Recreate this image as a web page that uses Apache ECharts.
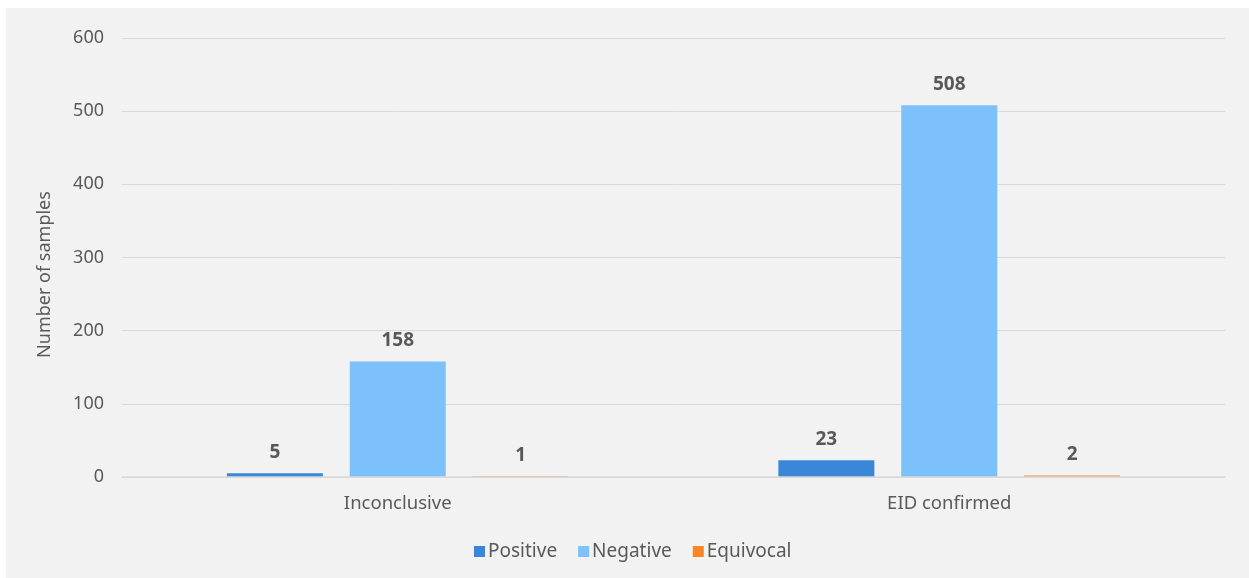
<!DOCTYPE html>
<html>
<head>
<meta charset="utf-8">
<script src="https://cdn.jsdelivr.net/npm/echarts@6/dist/echarts.min.js"></script>
<style>
html,body{margin:0;padding:0;background:#ffffff;width:1249px;height:578px;overflow:hidden;}
#panel{position:absolute;left:6px;top:8px;width:1243px;height:570px;background:#f2f2f2;}
#chart{position:absolute;left:0;top:0;width:1249px;height:578px;}
</style>
</head>
<body>
<div id="panel"></div>
<div id="chart"></div>
<script>
var categories = ['Inconclusive', 'EID confirmed'];
var positive = [5, 23];
var negative = [158, 508];
var equivocal = [1, 2];
var yTicks = [0, 100, 200, 300, 400, 500, 600];

var font = '"Noto Sans", "Open Sans", sans-serif';
var textColor = '#595959';
var chart = echarts.init(document.getElementById('chart'), null, {renderer: 'canvas'});
var labelCfg = {show: true, position: 'top', distance: 11, color: textColor, fontSize: 19, fontWeight: 'bold', fontFamily: font};
chart.setOption({
  backgroundColor: 'transparent',
  animation: false,
  grid: {left: 122, right: 24, top: 38, bottom: 101, containLabel: false},
  legend: {
    top: 537, left: 469, itemWidth: 11, itemHeight: 11, itemGap: 21,
    icon: 'rect',
    textStyle: {color: textColor, fontSize: 19, fontFamily: font, padding: [0,0,0,-2]},
    data: ['Positive', 'Negative', 'Equivocal']
  },
  xAxis: {
    type: 'category', data: categories, z: 5,
    axisLine: {lineStyle: {color: '#d9d9d9', width: 1.5}},
    axisTick: {show: false},
    axisLabel: {color: textColor, fontSize: 18.5, fontFamily: font, margin: 17}
  },
  yAxis: {
    type: 'value', min: yTicks[0], max: yTicks[yTicks.length - 1], interval: 100,
    name: 'Number of samples', nameLocation: 'middle', nameGap: 68, nameRotate: 90,
    nameTextStyle: {color: textColor, fontSize: 18, fontFamily: font, padding: [0, 34, 0, 0]},
    axisLine: {show: false}, axisTick: {show: false},
    axisLabel: {color: textColor, fontSize: 18, fontFamily: font, margin: 18},
    splitLine: {lineStyle: {color: '#d9d9d9', width: 1}}
  },
  series: [
    {name: 'Positive', type: 'bar', data: positive, barWidth: 96, barGap: '28%', itemStyle: {color: '#3a87d8'}, label: labelCfg},
    {name: 'Negative', type: 'bar', data: negative, barWidth: 96, barGap: '28%', itemStyle: {color: '#7cc1fb'}, label: labelCfg},
    {name: 'Equivocal', type: 'bar', data: equivocal, barWidth: 96, barGap: '28%', itemStyle: {color: '#fb8424'}, label: labelCfg}
  ]
});
</script>
</body>
</html>
